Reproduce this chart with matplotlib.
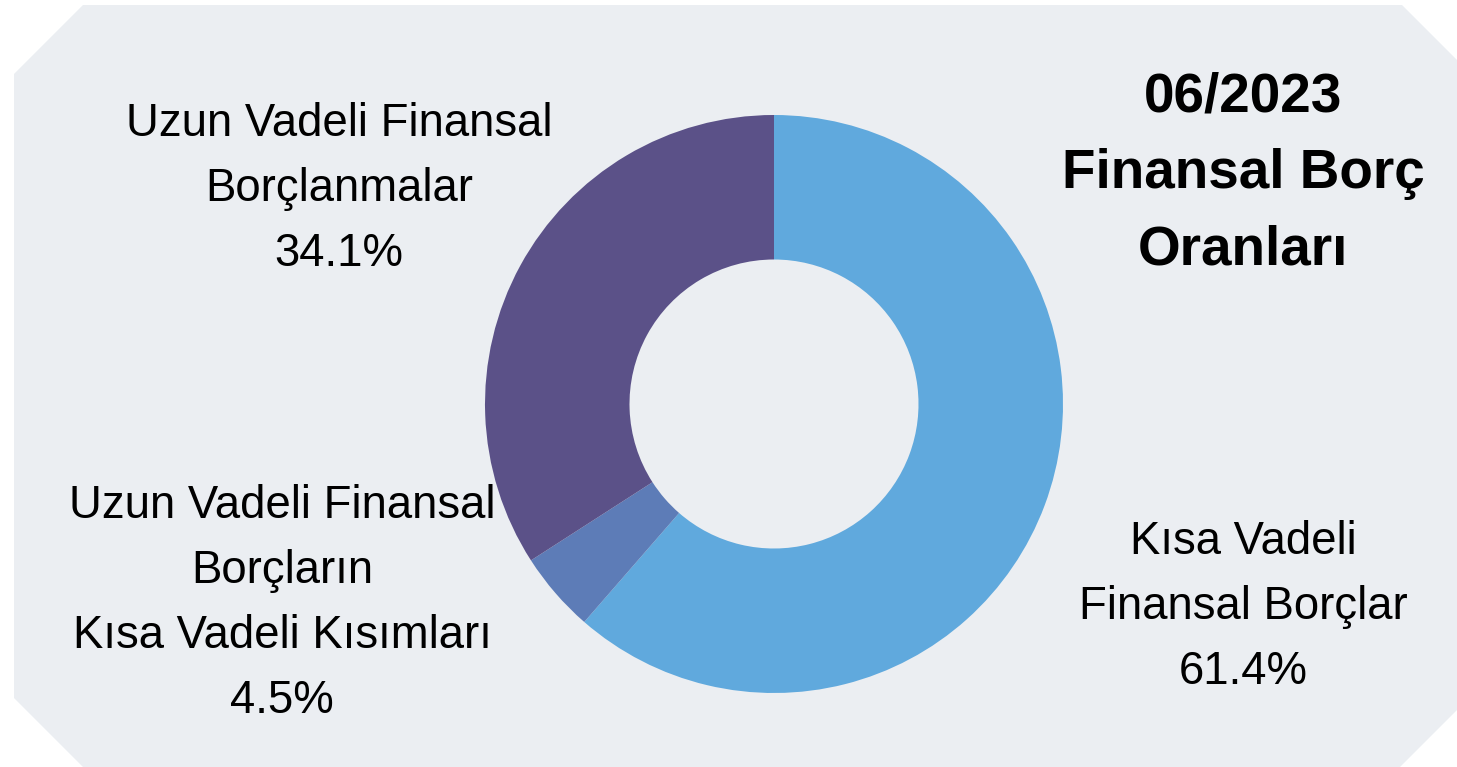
import matplotlib
matplotlib.use("Agg")
import matplotlib.pyplot as plt
from matplotlib.patches import Polygon

plt.rcParams['font.family'] = ['Liberation Sans', 'DejaVu Sans']

# Veriler
kategoriler = ['Kısa Vadeli\nFinansal Borçlar',
               'Uzun Vadeli Finansal\nBorçların\nKısa Vadeli Kısımları',
               'Uzun Vadeli Finansal\nBorçlanmalar']
oranlar = [61.4, 4.5, 34.1]
renkler = ['#60A9DD', '#5D7CB7', '#5B5188']
baslik = '06/2023\nFinansal Borç\nOranları'

W, H = 1457, 767
fig = plt.figure(figsize=(W / 100, H / 100), dpi=100, facecolor='white')


def fx(px):
    return px / W


def fy(py):
    return 1 - py / H


# arka plan (köşeleri kesik)
koseler = [(14, 74), (83, 5), (1402, 5), (1457, 60), (1457, 710),
           (1400, 767), (83, 767), (14, 698)]
fig.patches.append(Polygon([(fx(a), fy(b)) for a, b in koseler], closed=True,
                           transform=fig.transFigure, facecolor='#EBEEF2',
                           edgecolor='none', zorder=-1))

# halka grafik
cx, cy, r = 774, 404, 289
ax = fig.add_axes([fx(cx - r), fy(cy + r), 2 * r / W, 2 * r / H])
ax.set_zorder(1)
ax.pie(oranlar, colors=renkler, startangle=90, counterclock=False,
       wedgeprops=dict(width=0.5, edgecolor='none'))
ax.set_xlim(-1, 1)
ax.set_ylim(-1, 1)
ax.set_aspect('equal')
ax.axis('off')

# etiketler (y: son satırın taban çizgisi)
etiket_yer = [(1243, 684), (282, 713), (339, 266)]
for ad, oran, (x, y) in zip(kategoriler, oranlar, etiket_yer):
    fig.text(fx(x), fy(y), f'{ad}\n{oran:.1f}%', ha='center', va='baseline',
             fontsize=32.8, linespacing=1.62, color='black', zorder=2)

fig.text(fx(1243), fy(265), baslik, ha='center', va='baseline',
         fontsize=39.5, fontweight='bold', linespacing=1.62, color='black',
         zorder=2)

fig.savefig('out.png', dpi=100, facecolor='white')
